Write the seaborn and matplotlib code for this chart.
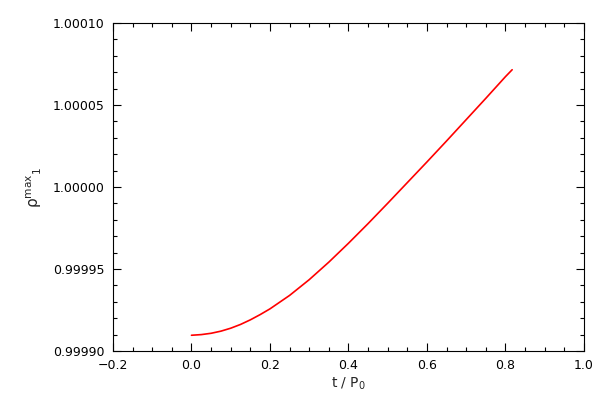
import numpy as np
import pandas as pd
import matplotlib
matplotlib.use('Agg')
import matplotlib.pyplot as plt
import seaborn as sns
from matplotlib.ticker import MultipleLocator, FuncFormatter

# Data
t = [0.000, 0.025, 0.050, 0.075, 0.100, 0.125, 0.150, 0.175, 0.200, 0.250,
     0.300, 0.350, 0.400, 0.450, 0.500, 0.550, 0.600, 0.650, 0.700, 0.750,
     0.800, 0.817]
rho_max = [0.9999096, 0.9999100, 0.9999108, 0.9999121, 0.9999139, 0.9999162,
           0.9999190, 0.9999222, 0.9999257, 0.9999339, 0.9999435, 0.9999542,
           0.9999657, 0.9999777, 0.9999901, 1.0000027, 1.0000153, 1.0000281,
           1.0000411, 1.0000541, 1.0000673, 1.0000715]

xlim = (-0.2, 1.0)
ylim = (0.99990, 1.00010)

df = pd.DataFrame({'t': t, 'rho': rho_max})

sns.set_theme(style='white')
plt.rcParams['font.family'] = ['DejaVu Sans']
plt.rcParams['mathtext.fontset'] = 'dejavusans'

fig = plt.figure(figsize=(6, 4), dpi=100)
ax = fig.add_axes([0.1883, 0.1225, 0.785, 0.82])

sns.lineplot(data=df, x='t', y='rho', color='red', linewidth=1.2, ax=ax)

ax.set_xlim(*xlim)
ax.set_ylim(*ylim)

ax.xaxis.set_major_locator(MultipleLocator(0.2))
ax.xaxis.set_minor_locator(MultipleLocator(0.05))
ax.yaxis.set_major_locator(MultipleLocator(0.00005))
ax.yaxis.set_minor_locator(MultipleLocator(0.00001))
ax.xaxis.set_major_formatter(FuncFormatter(lambda v, p: f'{v:.1f}'.replace('-', '\u2212')))
ax.yaxis.set_major_formatter(FuncFormatter(lambda v, p: f'{v:.5f}'))

ax.tick_params(which='both', direction='in', top=True, right=True,
               bottom=True, left=True, colors='black', labelsize=9, width=0.8)
ax.tick_params(which='major', length=6, pad=6)
ax.tick_params(which='minor', length=3)

for s in ax.spines.values():
    s.set_color('black')
    s.set_linewidth(0.8)

ax.set_xlabel('t / P$_0$', fontsize=10, labelpad=2)
ax.set_ylabel(r'$\mathrm{ρ}^{\rm max}{}_1$', fontsize=11, labelpad=6)

fig.savefig('out.png', dpi=100, facecolor='white')
